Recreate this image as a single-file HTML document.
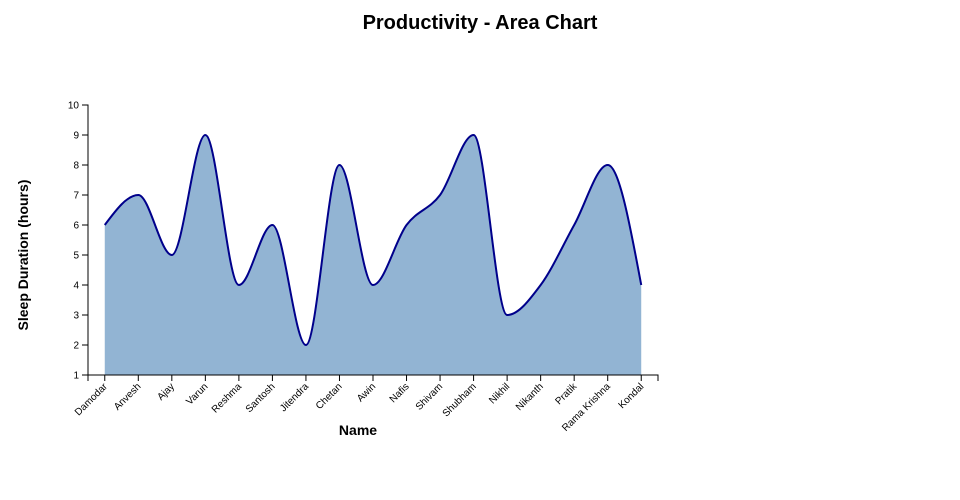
<!DOCTYPE html>
<html><head><meta charset="utf-8"><style>
body{margin:0;background:#fff;}
svg{display:block;font-family:"Liberation Sans",sans-serif;}
</style></head><body>
<svg id="chart" width="960" height="500">
<text x="480" y="29" text-anchor="middle" font-size="20" font-weight="bold">Productivity - Area Chart</text>
<text x="358" y="435" text-anchor="middle" font-size="14" font-weight="bold">Name</text>
<text transform="translate(28,255) rotate(-90)" text-anchor="middle" font-size="14" font-weight="bold">Sleep Duration (hours)</text>
<g id="plot"></g>
</svg>
<script>
const categories=["Damodar","Anvesh","Ajay","Varun","Reshma","Santosh","Jitendra","Chetan","Awin","Nafis","Shivam","Shubham","Nikhil","Nikanth","Pratik","Rama Krishna","Kondal"];
const sleepValues=[6,7,5,9,4,6,2,8,4,6,7,9,3,4,6,8,4];
const yTicks=[1,2,3,4,5,6,7,8,9,10];
const NS="http://www.w3.org/2000/svg";
const X0=88,X1=658,Y0=375,Y1=105,yMin=1,yMax=10;
const bw=(X1-X0)/categories.length;
function xs(i){return X0+bw*(i+0.5);}
function ys(v){return Y0-(v-yMin)/(yMax-yMin)*(Y0-Y1);}
const g=document.getElementById('plot');
function mk(t,a){const e=document.createElementNS(NS,t);for(const k in a)e.setAttribute(k,a[k]);return e;}
const pts=sleepValues.map((v,i)=>[xs(i),ys(v)]);
function sign(x){return x<0?-1:1;}
const n=pts.length,t=new Array(n);
for(let i=1;i<n-1;i++){const h0=pts[i][0]-pts[i-1][0],h1=pts[i+1][0]-pts[i][0];
 const s0=(pts[i][1]-pts[i-1][1])/h0,s1=(pts[i+1][1]-pts[i][1])/h1,p=(s0*h1+s1*h0)/(h0+h1);
 t[i]=(sign(s0)+sign(s1))*Math.min(Math.abs(s0),Math.abs(s1),0.5*Math.abs(p))||0;}
{const h=pts[1][0]-pts[0][0];t[0]=(3*(pts[1][1]-pts[0][1])/h-t[1])/2;
 const h2=pts[n-1][0]-pts[n-2][0];t[n-1]=(3*(pts[n-1][1]-pts[n-2][1])/h2-t[n-2])/2;}
let d="M"+pts[0][0]+","+pts[0][1];
for(let i=0;i<n-1;i++){const dx=(pts[i+1][0]-pts[i][0])/3;
 d+="C"+(pts[i][0]+dx)+","+(pts[i][1]+dx*t[i])+","+(pts[i+1][0]-dx)+","+(pts[i+1][1]-dx*t[i+1])+","+pts[i+1][0]+","+pts[i+1][1];}
const area=mk('path',{d:d+"L"+pts[n-1][0]+","+Y0+"L"+pts[0][0]+","+Y0+"Z",fill:"#92b4d3"});


g.appendChild(area);
const line=mk('path',{d:d,fill:"none",stroke:"#00008b","stroke-width":2});


g.appendChild(line);
const xa=mk('path',{d:`M${X0},${Y0+6}V${Y0}H${X1}V${Y0+6}`,stroke:"#000",fill:"none"});


g.appendChild(xa);
const ya=mk('path',{d:`M${X0-6},${Y1}H${X0}V${Y0}H${X0-6}`,stroke:"#000",fill:"none"});


g.appendChild(ya);
categories.forEach((c,i)=>{const x=xs(i);
 g.appendChild(mk('line',{x1:x,x2:x,y1:Y0,y2:Y0+6,stroke:"#000"}));
 const tx=mk('text',{transform:`translate(${x+3},${Y0+12}) rotate(-45)`,"text-anchor":"end","font-size":10});
 tx.textContent=c;
 
 
 g.appendChild(tx);});
yTicks.forEach(v=>{const y=ys(v);
 g.appendChild(mk('line',{x1:X0-6,x2:X0,y1:y,y2:y,stroke:"#000"}));
 const tx=mk('text',{x:X0-9,y:y+3.5,"text-anchor":"end","font-size":10});
 tx.textContent=v;
 
 
 g.appendChild(tx);});
</script>
</body></html>
